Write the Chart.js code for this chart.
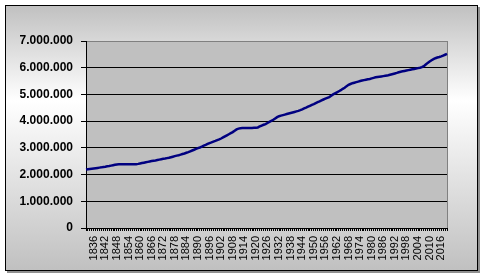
<!DOCTYPE html>
<html>
<head>
<meta charset="utf-8">
<script src="https://cdn.jsdelivr.net/npm/chart.js@4.4.0/dist/chart.umd.min.js"></script>
<style>
html, body { margin: 0; padding: 0; background: #fff; }
</style>
</head>
<body>
<canvas id="chart" width="484" height="278"></canvas>
<script>
// yearly categories, 1832 .. 2019
const firstYear = 1832;
const lastYear = 2019;
const labelStart = 1836;
const labelEvery = 6;

// population, one value per year (decade rows)
const population = [
    2190000, 2200000, 2210000, 2220000, 2230000, 2240000, 2250000, 2260000,                // 1832-1839
    2270000, 2285000, 2295000, 2310000, 2320000, 2335000, 2350000, 2365000, 2380000, 2385000, // 1840s
    2385000, 2385000, 2385000, 2385000, 2385000, 2385000, 2385000, 2385000, 2390000, 2400000, // 1850s
    2415000, 2430000, 2445000, 2460000, 2475000, 2490000, 2505000, 2520000, 2530000, 2545000, // 1860s
    2560000, 2575000, 2590000, 2600000, 2615000, 2630000, 2650000, 2670000, 2690000, 2710000, // 1870s
    2725000, 2745000, 2770000, 2790000, 2815000, 2840000, 2870000, 2900000, 2930000, 2960000, // 1880s
    2990000, 3015000, 3045000, 3080000, 3110000, 3145000, 3180000, 3205000, 3235000, 3260000, // 1890s
    3290000, 3315000, 3350000, 3390000, 3430000, 3470000, 3510000, 3550000, 3590000, 3640000, // 1900s
    3690000, 3720000, 3735000, 3740000, 3745000, 3745000, 3745000, 3745000, 3745000, 3750000, // 1910s
    3755000, 3765000, 3800000, 3835000, 3865000, 3890000, 3930000, 3970000, 4010000, 4050000, // 1920s
    4100000, 4150000, 4185000, 4205000, 4225000, 4245000, 4265000, 4285000, 4305000, 4325000, // 1930s
    4345000, 4365000, 4385000, 4410000, 4440000, 4475000, 4505000, 4540000, 4575000, 4610000, // 1940s
    4640000, 4675000, 4710000, 4740000, 4775000, 4810000, 4840000, 4870000, 4900000, 4950000, // 1950s
    5000000, 5040000, 5080000, 5120000, 5160000, 5210000, 5250000, 5310000, 5360000, 5390000, // 1960s
    5420000, 5440000, 5460000, 5480000, 5500000, 5520000, 5535000, 5550000, 5565000, 5580000, // 1970s
    5600000, 5620000, 5640000, 5655000, 5665000, 5675000, 5685000, 5695000, 5705000, 5725000, // 1980s
    5745000, 5765000, 5785000, 5805000, 5830000, 5850000, 5865000, 5880000, 5895000, 5910000, // 1990s
    5925000, 5940000, 5955000, 5970000, 5985000, 6000000, 6020000, 6060000, 6120000, 6180000, // 2000s
    6230000, 6280000, 6320000, 6355000, 6380000, 6400000, 6425000, 6455000, 6485000, 6515000  // 2010s
];

const yMax = 7000000;
const yStep = 1000000;

const years = [];
for (let y = firstYear; y <= lastYear; y++) years.push(String(y));

function withDots(v) {
    return String(v).replace(/\B(?=(\d{3})+(?!\d))/g, '.');
}

// Excel-ish frame: gradient box with shadow, grey plot area
const frame = {
    id: 'frame',
    beforeDraw(chart) {
        const ctx = chart.ctx;
        const a = chart.chartArea;
        ctx.save();
        ctx.fillStyle = '#fff';
        ctx.fillRect(0, 0, chart.width, chart.height);
        ctx.fillStyle = '#909090';
        ctx.fillRect(7, 7, 473, 266);
        const g = ctx.createLinearGradient(0, 5, 0, 271);
        g.addColorStop(0, '#c0c0c0');
        g.addColorStop(0.36, '#ffffff');
        g.addColorStop(1, '#c0c0c0');
        ctx.fillStyle = g;
        ctx.fillRect(5, 5, 473, 266);
        ctx.strokeStyle = '#000';
        ctx.lineWidth = 1;
        ctx.strokeRect(5.5, 5.5, 472, 265);
        ctx.fillStyle = '#c0c0c0';
        ctx.fillRect(a.left, a.top, a.right - a.left, a.bottom - a.top);
        ctx.restore();
    },
    beforeDatasetsDraw(chart) {
        const ctx = chart.ctx;
        const a = chart.chartArea;
        ctx.save();
        ctx.strokeStyle = '#808080';
        ctx.lineWidth = 1;
        ctx.beginPath();
        ctx.moveTo(Math.round(a.right) + 0.5, a.top);
        ctx.lineTo(Math.round(a.right) + 0.5, a.bottom);
        ctx.stroke();
        ctx.restore();
    }
};

new Chart(document.getElementById('chart'), {
    type: 'line',
    data: {
        labels: years,
        datasets: [{
            data: population,
            borderColor: '#000080',
            borderWidth: 2.5,
            pointRadius: 0,
            tension: 0,
            fill: false
        }]
    },
    options: {
        responsive: false,
        animation: false,
        devicePixelRatio: 1,
        layout: { padding: { left: 0, top: 41, right: 37, bottom: 0 } },
        plugins: {
            legend: { display: false },
            tooltip: { enabled: false }
        },
        scales: {
            x: {
                offset: false,
                afterFit: s => { s.height = 50; },
                border: { color: '#000', width: 1 },
                grid: {
                    drawOnChartArea: false,
                    drawTicks: true,
                    tickLength: 3,
                    color: '#000'
                },
                ticks: {
                    autoSkip: false,
                    minRotation: 90,
                    maxRotation: 90,
                    padding: 5,
                    color: '#000',
                    font: { family: 'Arial, "Liberation Sans"', size: 11 },
                    callback: function (v, i) {
                        const yr = firstYear + i;
                        return (yr >= labelStart && (yr - labelStart) % labelEvery === 0) ? String(yr) : '';
                    }
                }
            },
            y: {
                min: 0,
                max: yMax,
                afterFit: s => { s.width = 86; },
                border: { color: '#000', width: 1 },
                grid: {
                    color: c => (c.tick && c.tick.value === yMax) ? '#808080' : '#000',
                    tickColor: '#000',
                    tickLength: 5,
                    lineWidth: 1
                },
                ticks: {
                    stepSize: yStep,
                    padding: 8,
                    color: '#000',
                    font: { family: 'Arial, "Liberation Sans"', size: 12, weight: 'bold' },
                    callback: v => withDots(v)
                }
            }
        }
    },
    plugins: [frame]
});
</script>
</body>
</html>
